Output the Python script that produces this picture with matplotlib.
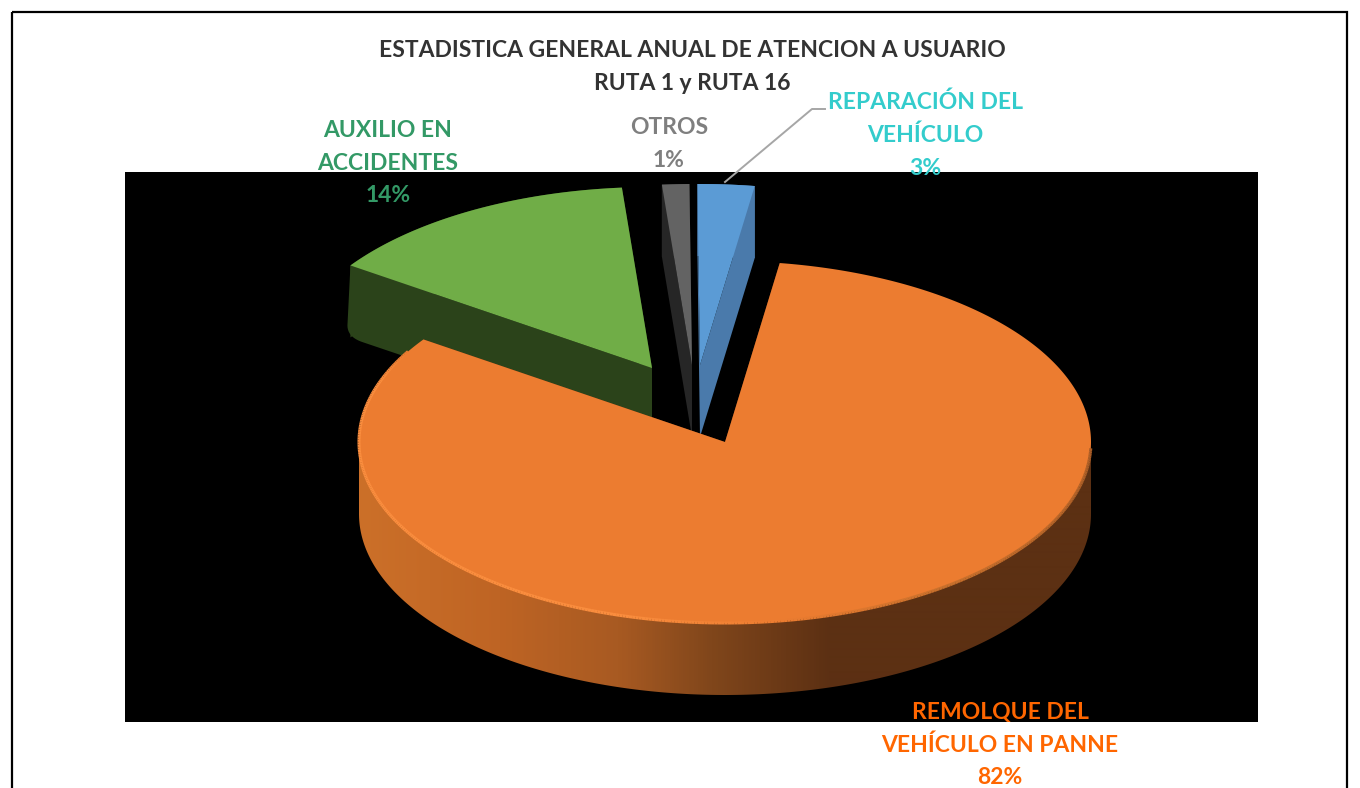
import numpy as np
import matplotlib
matplotlib.use("Agg")
import matplotlib.pyplot as plt
from matplotlib.collections import LineCollection
from matplotlib.colors import LinearSegmentedColormap
from matplotlib.patches import Polygon, Rectangle

plt.rcParams["font.family"] = ["Lato", "DejaVu Sans"]

# =============================================================================
# Data
# =============================================================================

categorias = ["REMOLQUE DEL\nVEHÍCULO EN PANNE", "AUXILIO EN\nACCIDENTES", "OTROS", "REPARACIÓN DEL\nVEHÍCULO"]
valores = [82.2, 14.1, 1.2, 2.5]
porcentajes = ["82%", "14%", "1%", "3%"]

titulo = "ESTADISTICA GENERAL ANUAL DE ATENCION A USUARIO\nRUTA 1 y RUTA 16"

# =============================================================================
# Style / layout (pixels of the picture)
# =============================================================================

ANGULO_INICIO = 8.6
RX, RY, DEPTH = 366, 181, 72

colores_cara = ["#ec7c30", "#70ad47", "#636363", "#5b9bd5"]
colores_pared = ["#5c3013", "#2b431a", "#262626", "#4a7aab"]
colores_texto = ["#ff6600", "#339966", "#7f7f7f", "#33cccc"]
vertices = [(725, 442), (652, 368), (692, 365), (700, 365)]
pos_etiqueta = [(1000, 745), (388, 163), (669, 144), (925, 135)]

rim_cmap = LinearSegmentedColormap.from_list(
    "rim",
    [(0.0, "#cc7029"), (0.3, "#be6424"), (0.55, "#a85a22"), (0.75, "#80461b"), (1.0, "#5c3013")],
)
bevel_cmap = LinearSegmentedColormap.from_list(
    "bevel",
    [(0.0, "#a85c26"), (0.25, "#c8702c"), (0.38, "#ec7c30"), (0.5, "#fa8d3e"), (0.95, "#fa8d3e"), (1.0, "#ec7c30")],
)


def borde(cx, cy, t):
    t = np.radians(t)
    return cx + RX * np.sin(t), cy - RY * np.cos(t)


def esquina(p0, p1, p2, n=12):
    # small rounded corner between p0 and p2
    u = np.linspace(0, 1, n)[:, None]
    p0, p1, p2 = np.array(p0), np.array(p1), np.array(p2)
    return (1 - u) ** 2 * p0 + 2 * u * (1 - u) * p1 + u ** 2 * p2


fig = plt.figure(figsize=(13.6, 7.88), dpi=100)
ax = fig.add_axes([0, 0, 1, 1])

# outer frame, runs off the bottom of the picture
ax.add_patch(Rectangle((12, 12), 1335, 800, fill=False, edgecolor="black", lw=1.6, zorder=1))

# black plot area
ax.add_patch(Rectangle((125, 172), 1133, 550, facecolor="black", edgecolor="none", zorder=1))

# =============================================================================
# Slices, the big one goes last because it covers the others
# =============================================================================

inicio = ANGULO_INICIO
rangos = []
for v in valores:
    rangos.append((inicio, inicio + v * 3.6))
    inicio += v * 3.6

for i in [1, 2, 3, 0]:
    t0, t1 = rangos[i]
    cx, cy = vertices[i]
    ts = np.linspace(t0, t1, max(int(t1 - t0) * 3, 8))
    xs, ys = borde(cx, cy, ts)
    z_base = 2 if i else 3

    # cut walls
    for t in (t0, t1):
        x, y = borde(cx, cy, t)
        pts = [(x, y), (cx, cy), (cx, cy + DEPTH)]
        if i == 1 and t == t0:
            # the green slice has a soft lower corner
            pts += list(esquina((x + 13, y + DEPTH + 5), (x - 3, y + DEPTH), (x - 3, y + DEPTH - 12)))
        else:
            pts += [(x, y + DEPTH)]
        ax.add_patch(Polygon(pts, closed=True, facecolor=colores_pared[i], edgecolor="none", zorder=z_base))

    # outer wall, only the front half of the big slice can be seen
    if i == 0:
        # stop exactly at the side extremes, past them the band folds on itself
        tf = np.linspace(90, 270, 400)
        xf, yf = borde(cx, cy, tf)
        banda = np.c_[np.r_[xf, xf[::-1]], np.r_[yf, yf[::-1] + DEPTH]]
        xg = np.arange(350, 1100)
        grad = np.clip((xg - 358) / (830 - 358), 0, 1).reshape(1, -1)
        im = ax.imshow(grad, extent=(350, 1100, 730, 250), aspect="auto", cmap=rim_cmap,
                       vmin=0, vmax=1, zorder=z_base, interpolation="bilinear")
        im.set_clip_path(Polygon(banda, closed=True, transform=ax.transData))
    else:
        banda = np.c_[np.r_[xs, xs[::-1]], np.r_[ys, ys[::-1] + DEPTH]]
        ax.add_patch(Polygon(banda, closed=True, facecolor=colores_pared[i], edgecolor="none", zorder=z_base))

    # top face
    ax.fill(np.r_[cx, xs], np.r_[cy, ys], color=colores_cara[i], lw=0, zorder=z_base + 0.5)

# bevel along the front edge of the big slice, bright on the left and fading to the right
cx, cy = vertices[0]
ts = np.linspace(92, 300, 400)
xs, ys = borde(cx, cy, ts)
segs = np.stack([np.c_[xs[:-1], ys[:-1]], np.c_[xs[1:], ys[1:]]], axis=1)
ax.add_collection(LineCollection(segs, colors=bevel_cmap((ts[:-1] - 92) / (300 - 92)), linewidths=2.2, zorder=4))

# leader line of the blue slice
ax.plot([725, 812, 825], [182, 109, 109], color="#a6a6a6", lw=1.4, zorder=5)

# =============================================================================
# Text
# =============================================================================

ax.text(692, 67, titulo, ha="center", va="center", fontsize=16.5, fontweight="bold",
        color="#333333", linespacing=1.68, zorder=6)

for cat, pct, color, pos in zip(categorias, porcentajes, colores_texto, pos_etiqueta):
    ax.text(pos[0], pos[1], cat + "\n" + pct, ha="center", va="center", fontsize=16.5,
            fontweight="bold", color=color, linespacing=1.68, zorder=6)

ax.set_xlim(0, 1360)
ax.set_ylim(788, 0)
ax.axis("off")

fig.savefig("out.png", dpi=100)
plt.close(fig)
